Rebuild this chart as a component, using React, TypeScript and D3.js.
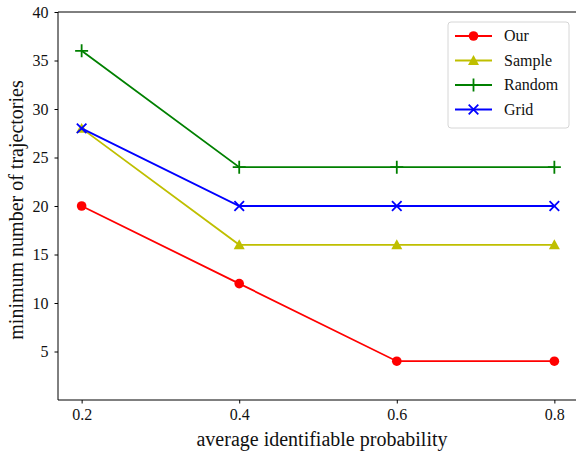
import React, { useEffect, useRef } from "react";
import * as d3 from "d3";

const probs = [0.2, 0.4, 0.6, 0.8];
const ourVals = [20, 12, 4, 4];
const sampleVals = [28, 16, 16, 16];
const randomVals = [36, 24, 24, 24];
const gridVals = [28, 20, 20, 20];
const yTicks = [5, 10, 15, 20, 25, 30, 35, 40];
const xTicks = [0.2, 0.4, 0.6, 0.8];

const series = [
  { name: "Our", values: ourVals, color: "#ff0000", marker: "circle" },
  { name: "Sample", values: sampleVals, color: "#bfbf00", marker: "triangle" },
  { name: "Random", values: randomVals, color: "#008000", marker: "plus" },
  { name: "Grid", values: gridVals, color: "#0000ff", marker: "x" },
];

const W = 576, H = 453;
const left = 58, top = 12, bottom = 400, right = 578;
const font = "'Liberation Serif', 'DejaVu Serif', serif";

function drawMarker(g: any, kind: string, color: string, x: number, y: number) {
  if (kind === "circle") {
    g.append("circle").attr("cx", x).attr("cy", y).attr("r", 4.8).attr("fill", color);
  } else if (kind === "triangle") {
    const s = 5.5;
    g.append("path")
      .attr("d", `M${x},${y - s}L${x + s},${y + s * 0.8}L${x - s},${y + s * 0.8}Z`)
      .attr("fill", color);
  } else if (kind === "plus") {
    const s = 6.5;
    g.append("path")
      .attr("d", `M${x - s},${y}H${x + s}M${x},${y - s}V${y + s}`)
      .attr("stroke", color).attr("stroke-width", 1.8);
  } else {
    const s = 4.8;
    g.append("path")
      .attr("d", `M${x - s},${y - s}L${x + s},${y + s}M${x - s},${y + s}L${x + s},${y - s}`)
      .attr("stroke", color).attr("stroke-width", 1.8);
  }
}

export default function App() {
  const svgRef = useRef<SVGSVGElement>(null);

  useEffect(() => {
    const svg = d3.select(svgRef.current);
    svg.selectAll("*").remove();

    const x = d3.scaleLinear().domain([0.17, 0.83]).range([left, right]);
    const y = d3.scaleLinear().domain([0, 40]).range([bottom, top]);

    const line = d3.line<number>()
      .x((d, i) => x(probs[i]))
      .y(d => y(d));

    series.forEach(s => {
      const g = svg.append("g");
      g.append("path")
        .attr("d", line(s.values))
        .attr("fill", "none")
        .attr("stroke", s.color)
        .attr("stroke-width", 1.8);
      s.values.forEach((v, i) => drawMarker(g, s.marker, s.color, x(probs[i]), y(v)));
    });

    const xAxis = svg.append("g")
      .attr("transform", `translate(0,${bottom})`)
      .call(d3.axisBottom(x).tickValues(xTicks).tickFormat(d3.format(".1f")).tickSizeOuter(0).tickSize(3.5).tickPadding(5));
    const yAxis = svg.append("g")
      .attr("transform", `translate(${left},0)`)
      .call(d3.axisLeft(y).tickValues(yTicks).tickSizeOuter(0).tickSize(3.5).tickPadding(6));
    [xAxis, yAxis].forEach(a => {
      a.select(".domain").remove();
      a.selectAll("line").attr("stroke", "#000").attr("stroke-width", 1);
      a.selectAll("text").attr("font-family", font).attr("font-size", 16).attr("fill", "#111");
    });

    // spines
    svg.append("path")
      .attr("d", `M${left},${bottom}V${top}H${right}V${bottom}Z`)
      .attr("fill", "none").attr("stroke", "#000").attr("stroke-width", 1);

    svg.append("text")
      .attr("x", 322).attr("y", 446)
      .attr("text-anchor", "middle")
      .attr("font-family", font).attr("font-size", 20).attr("fill", "#111")
      .text("average identifiable probability");
    svg.append("text")
      .attr("transform", `translate(23,210) rotate(-90)`)
      .attr("text-anchor", "middle")
      .attr("font-family", font).attr("font-size", 20).attr("fill", "#111")
      .text("minimum number of trajectories");

    // legend
    const lg = svg.append("g");
    lg.append("rect")
      .attr("x", 448).attr("y", 22).attr("width", 121).attr("height", 106)
      .attr("rx", 3).attr("fill", "#fff").attr("fill-opacity", 0.8)
      .attr("stroke", "#ccc").attr("stroke-width", 0.8);
    series.forEach((s, i) => {
      const ly = 36 + i * 24.5;
      lg.append("line")
        .attr("x1", 455).attr("x2", 492).attr("y1", ly).attr("y2", ly)
        .attr("stroke", s.color).attr("stroke-width", 1.8);
      drawMarker(lg, s.marker, s.color, 473.5, ly);
      lg.append("text")
        .attr("x", 504).attr("y", ly + 5)
        .attr("font-family", font).attr("font-size", 16).attr("fill", "#111")
        .text(s.name);
    });
  }, []);

  return (
    <svg ref={svgRef} width={W} height={H}
      style={{ position: "absolute", left: 0, top: 0, background: "#fff" }} />
  );
}
